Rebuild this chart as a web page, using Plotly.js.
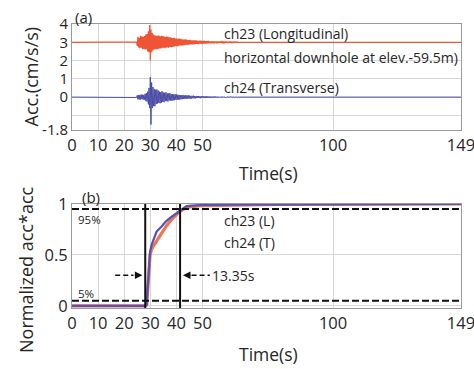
<!DOCTYPE html>
<html>
<head>
<meta charset="utf-8">
<script src="https://cdn.plot.ly/plotly-3.0.1.min.js"></script>
<style>html,body{margin:0;padding:0;background:#fff;}#chart{width:474px;height:369px;}</style>
</head>
<body>
<div id="chart"></div>
<script>
// ---- Data ----
// Accelerograms sampled every 0.25 s starting at 24 s (flat zero before and after)
var accStart = 24;
var accStep = 0.25;
var recordEnd = 149;
var ch23Offset = 3;   // ch23 trace is drawn shifted up by 3 cm/s/s
var ch23Acc = [
 0, 0.01, -0.01, 0.02,
 -0.2, 0.3, -0.28, 0.25,
 -0.32, 0.35, -0.3, 0.33,
 -0.36, 0.3, -0.38, 0.34,
 -0.4, 0.42, -0.38, 0.45,
 -0.5, 0.6, -0.55, 0.95,
 -1.0, 0.7, -0.55, 0.5,
 -0.45, 0.42, -0.4, 0.38,
 -0.38, 0.36, -0.4, 0.35,
 -0.36, 0.38, -0.34, 0.33,
 -0.34, 0.36, -0.32, 0.34,
 -0.3, 0.32, -0.33, 0.3,
 -0.3, 0.32, -0.28, 0.3,
 -0.3, 0.27, -0.26, 0.27,
 -0.27, 0.24, -0.26, 0.23,
 -0.24, 0.25, -0.22, 0.2,
 -0.21, 0.2, -0.21, 0.19,
 -0.18, 0.2, -0.17, 0.18,
 -0.18, 0.16, -0.17, 0.15,
 -0.15, 0.16, -0.14, 0.15,
 -0.13, 0.13, -0.14, 0.12,
 -0.12, 0.13, -0.11, 0.11,
 -0.11, 0.1, -0.12, 0.1,
 -0.1, 0.11, -0.09, 0.1,
 -0.09, 0.08, -0.1, 0.09,
 -0.08, 0.09, -0.08, 0.07,
 -0.08, 0.07, -0.07, 0.08,
 -0.07, 0.06, -0.07, 0.06,
 -0.06, 0.07, -0.06, 0.05,
 -0.06, 0.05, -0.06, 0.05,
 -0.05, 0.05, -0.05, 0.04,
 -0.04, 0.04, -0.05, 0.04,
 -0.04, 0.04, -0.03, 0.04,
 -0.03, 0.03, -0.03, 0.03,
 -0.03, 0.03, -0.03, 0.02,
 -0.02, 0.03, -0.02, 0.02,
 -0.02, 0.02, -0.02, 0.02,
 -0.02, 0.02, -0.02, 0.02,
 -0.02, 0.02, -0.01, 0.02,
 -0.01, 0.02, -0.01, 0.01,
 0
];
var ch24Acc = [
 0, -0.01, 0.01, -0.02,
 0.1, -0.12, 0.1, -0.13,
 0.12, -0.13, 0.14, -0.11,
 0.13, -0.14, 0.12, -0.14,
 0.18, -0.2, 0.22, -0.25,
 0.3, -0.4, 0.5, -0.6,
 1.1, -1.5, 0.8, -0.6,
 0.55, -0.5, 0.45, -0.5,
 0.4, -0.38, 0.42, -0.35,
 0.36, -0.32, 0.3, -0.34,
 0.28, -0.3, 0.32, -0.26,
 0.25, -0.28, 0.24, -0.22,
 0.26, -0.22, 0.2, -0.24,
 0.2, -0.18, 0.22, -0.19,
 0.17, -0.2, 0.16, -0.18,
 0.15, -0.17, 0.16, -0.14,
 0.14, -0.15, 0.13, -0.14,
 0.12, -0.13, 0.11, -0.12,
 0.1, -0.11, 0.12, -0.1,
 0.09, -0.1, 0.1, -0.09,
 0.09, -0.08, 0.1, -0.08,
 0.08, -0.09, 0.07, -0.08,
 0.07, -0.06, 0.08, -0.07,
 0.06, -0.07, 0.06, -0.05,
 0.06, -0.05, 0.06, -0.05,
 0.05, -0.06, 0.05, -0.04,
 0.05, -0.04, 0.05, -0.04,
 0.04, -0.05, 0.04, -0.04,
 0.04, -0.03, 0.04, -0.04,
 0.03, -0.04, 0.03, -0.03,
 0.03, -0.03, 0.04, -0.03,
 0.03, -0.02, 0.03, -0.03,
 0.02, -0.03, 0.02, -0.02,
 0.02, -0.02, 0.03, -0.02,
 0.02, -0.02, 0.01, -0.02,
 0.01, -0.02, 0.01, -0.01,
 0.01, -0.01, 0.02, -0.01,
 0.01, -0.01, 0.01, -0.01,
 0.01, -0.01, 0.01, -0.01,
 0.01, -0.01, 0, -0.01,
 0
];

// Normalized cumulative acc*acc (Husid plot)
var husidTime = [0, 28, 28.6, 29.2, 29.9, 30.5, 31.5, 32.4, 34.3, 36, 38.2, 40, 41.4, 43.9, 46, 50, 60, 80, 149];
var ch23Husid = [0, 0, 0.01, 0.25, 0.5, 0.56, 0.6, 0.65, 0.72, 0.78, 0.85, 0.9, 0.93, 0.965, 0.975, 0.985, 0.99, 0.995, 1.0];
var ch24Husid = [0, 0, 0.01, 0.3, 0.53, 0.6, 0.67, 0.73, 0.78, 0.83, 0.875, 0.91, 0.94, 0.98, 0.985, 0.99, 0.993, 0.995, 1.0];
var level5 = 0.05, level95 = 0.95;
var t5 = 28.05, t95 = 41.4;
var durationLabel = '13.35s';

var xTicks = [0, 10, 20, 30, 40, 50, 100, 149];
var accTickVals = [-1.8, -1, 0, 1, 2, 3, 4];
var accTickText = ['-1.8', '', '0', '1', '2', '3', '4'];
var husidTickVals = [0, 0.5, 1];
var husidTickText = ['0', '0.5', '1'];

// ---- Build traces ----
function accTime(n) {
  var t = [0];
  for (var i = 0; i < n; i++) t.push(accStart + i * accStep);
  t.push(recordEnd);
  return t;
}
var tA = accTime(ch23Acc.length);
var y23 = [ch23Offset].concat(ch23Acc.map(function (v) { return v + ch23Offset; }), [ch23Offset]);
var y24 = [0].concat(ch24Acc, [0]);

var RED = '#ef5535', BLUE = '#4b4ba8';
var ORANGE = '#f27352', BLUE2 = '#5353b3';

var traces = [
  {x: tA, y: y23, type: 'scatter', mode: 'lines', line: {color: RED, width: 1.2}, xaxis: 'x', yaxis: 'y', hoverinfo: 'skip'},
  {x: tA, y: y24, type: 'scatter', mode: 'lines', line: {color: BLUE, width: 1}, xaxis: 'x', yaxis: 'y', hoverinfo: 'skip'},
  {x: husidTime, y: ch23Husid, type: 'scatter', mode: 'lines', line: {color: ORANGE, width: 3.2}, xaxis: 'x2', yaxis: 'y2', hoverinfo: 'skip'},
  {x: husidTime, y: ch24Husid, type: 'scatter', mode: 'lines', line: {color: BLUE2, width: 2.2}, xaxis: 'x2', yaxis: 'y2', hoverinfo: 'skip'}
];

var FONT = 'Open Sans, Noto Sans, sans-serif';
var TXT = '#262626';
var H = 369, L = 72, W = 389;
function px(xp) { return (xp - L) / W; }
function py(yp) { return 1 - yp / H; }

var axBase = {
  range: [0, 149], tickvals: xTicks, ticktext: xTicks.map(String),
  showgrid: true, gridcolor: '#d8d8d8', gridwidth: 1,
  showline: true, mirror: true, linecolor: '#9a9a9a', linewidth: 1,
  zeroline: false, ticks: '', ticklabeloverflow: 'allow',
  tickfont: {family: FONT, size: 16.5, color: TXT}
};

function paperText(x, y, text, size, angle) {
  return {xref: 'paper', yref: 'paper', x: px(x), y: py(y), xanchor: 'center', yanchor: 'middle',
    text: text, textangle: angle || 0, showarrow: false, font: {family: FONT, size: size, color: TXT}};
}
function note(xref, x, yPix, text, size) {
  return {xref: xref, yref: 'paper', x: x, y: py(yPix), xanchor: 'left', yanchor: 'middle',
    text: text, showarrow: false, font: {family: FONT, size: size, color: TXT}};
}

var layout = {
  width: 474, height: 369,
  margin: {l: L, r: 13, t: 0, b: 0},
  paper_bgcolor: '#fff', plot_bgcolor: '#fff',
  showlegend: false,
  xaxis: Object.assign({}, axBase, {domain: [0, 1], anchor: 'y'}),
  yaxis: Object.assign({}, axBase, {domain: [py(130), py(24)], anchor: 'x', range: [-1.8, 4],
    tickvals: accTickVals, ticktext: accTickText, tickfont: {family: FONT, size: 15, color: TXT}}),
  xaxis2: Object.assign({}, axBase, {domain: [0, 1], anchor: 'y2'}),
  yaxis2: Object.assign({}, axBase, {domain: [py(308), py(204)], anchor: 'x2', range: [-0.02, 1.0],
    tickvals: husidTickVals, ticktext: husidTickText}),
  shapes: [
    {type: 'line', xref: 'x2 domain', x0: 0, x1: 1, yref: 'y2', y0: level95, y1: level95, line: {color: '#111', width: 2, dash: '7px,3px'}},
    {type: 'line', xref: 'x2 domain', x0: 0, x1: 1, yref: 'y2', y0: level5, y1: level5, line: {color: '#111', width: 2, dash: '7px,3px'}},
    {type: 'line', xref: 'x2', x0: t5, x1: t5, yref: 'y2 domain', y0: 0, y1: 1, line: {color: '#111', width: 2}},
    {type: 'line', xref: 'x2', x0: t95, x1: t95, yref: 'y2 domain', y0: 0, y1: 1, line: {color: '#111', width: 2}},
    {type: 'line', xref: 'x2', x0: t5 - 11.5, x1: t5 - 4.5, yref: 'y2', y0: 0.3, y1: 0.3, line: {color: '#111', width: 1.5, dash: '5px,3px'}},
    {type: 'line', xref: 'x2', x0: t95 + 4.4, x1: t95 + 11.4, yref: 'y2', y0: 0.3, y1: 0.3, line: {color: '#111', width: 1.5, dash: '5px,3px'}}
  ],
  annotations: [
    paperText(31, 76.5, 'Acc.(cm/s/s)', 18, -90),
    paperText(26, 270, 'Normalized acc*acc', 18, -90),
    paperText(268, 173, 'Time(s)', 17.5),
    paperText(268, 354, 'Time(s)', 17.5),
    paperText(83, 17, '(a)', 15),
    paperText(91, 197, '(b)', 15),
    note('x', 57.5, 33, 'ch23 (Longitudinal)', 14),
    note('x', 57.5, 57, 'horizontal downhole at elev.-59.5m)', 14),
    note('x', 57.5, 88, 'ch24 (Transverse)', 14),
    note('x2', 57.5, 220, 'ch23 (L)', 14),
    note('x2', 57.5, 242, 'ch24 (T)', 14),
    note('x2', 1.5, 219, '95%', 11.5),
    note('x2', 1.5, 293, '5%', 11.5),
    {xref: 'x2', yref: 'y2', x: t95 + 11.6, y: 0.3, xanchor: 'left', yanchor: 'middle', text: durationLabel, showarrow: false, font: {family: FONT, size: 14, color: TXT}},
    {xref: 'x2', yref: 'y2', x: t5 - 1.1, y: 0.3, text: '', showarrow: true, axref: 'pixel', ayref: 'pixel', ax: -9, ay: 0, arrowhead: 2, arrowsize: 1, arrowwidth: 1.5, arrowcolor: '#111'},
    {xref: 'x2', yref: 'y2', x: t95 + 1.1, y: 0.3, text: '', showarrow: true, axref: 'pixel', ayref: 'pixel', ax: 9, ay: 0, arrowhead: 2, arrowsize: 1, arrowwidth: 1.5, arrowcolor: '#111'}
  ]
};

Plotly.newPlot('chart', traces, layout, {displayModeBar: false, staticPlot: true});
</script>
</body>
</html>
